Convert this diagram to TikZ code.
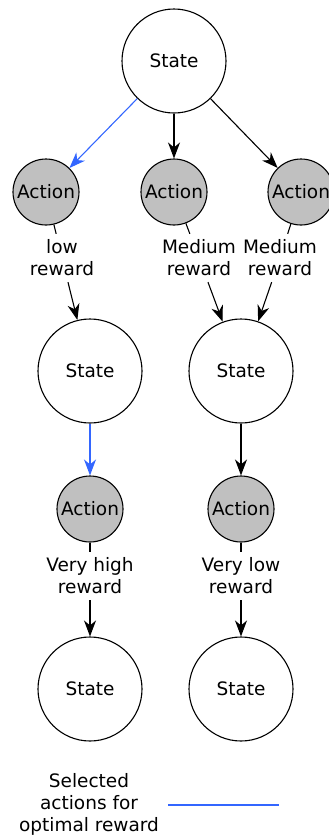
\documentclass[tikz,border=0pt]{standalone}
\usepackage{fontspec}
\setmainfont{DejaVu Sans}
\usetikzlibrary{arrows.meta}
\definecolor{optblue}{RGB}{51,102,255}
\definecolor{actgray}{RGB}{192,192,192}
\begin{document}
\begin{tikzpicture}[x=1pt,y=-1pt,
  every node/.style={font=\fontsize{18.5}{22}\selectfont},
  statenode/.style={circle,draw,line width=1.1pt,minimum size=104pt,inner sep=0pt},
  actionnode/.style={circle,draw,fill=actgray,line width=1.1pt,minimum size=66pt,inner sep=0pt},
  rewardlabel/.style={align=center,inner sep=0pt,outer sep=6pt},
  link/.style={line width=1.1pt},
  arr/.style={link,-{Stealth[length=16pt,width=12pt,inset=5pt]}},
  optimal/.style={arr,optblue}]
\useasboundingbox (0,0) rectangle (329,836);
\clip (0,0) rectangle (329,836);

% root and first choice of actions
\node[statenode] (s0) at (174,61) {State};
\node[actionnode] (a1) at (46,192) {Action};
\node[actionnode] (a2) at (174,192) {Action};
\node[actionnode] (a3) at (301,192) {Action};

% second level states
\node[statenode] (s1) at (90,371) {State};
\node[statenode] (s2) at (241,371) {State};

% second choice of actions
\node[actionnode] (a4) at (90,509) {Action};
\node[actionnode] (a5) at (241,509) {Action};

% final states
\node[statenode] (s3) at (90,689) {State};
\node[statenode] (s4) at (241,689) {State};

% reward labels
\node[rewardlabel] (r1) at (62,258) {low\\reward};
\node[rewardlabel] (r2) at (199,258) {Medium\\reward};
\node[rewardlabel] (r3) at (280,258) {Medium\\reward};
\node[rewardlabel] (r4) at (90,576) {Very high\\reward};
\node[rewardlabel] (r5) at (241,576) {Very low\\reward};

% state -> action
\draw[optimal] (s0) -- (a1);
\draw[arr] (s0) -- (a2);
\draw[arr] (s0) -- (a3);
\draw[optimal] (s1) -- (a4);
\draw[arr] (s2) -- (a5);

% action -> reward -> state
\draw[link] (a1) -- (r1);
\draw[arr] (r1) -- (s1);
\draw[link] (a2) -- (r2);
\draw[arr] (r2) -- (s2);
\draw[link] (a3) -- (r3);
\draw[arr] (r3) -- (s2);
\draw[link] (a4) -- (r4);
\draw[arr] (r4) -- (s3);
\draw[link] (a5) -- (r5);
\draw[arr] (r5) -- (s4);

% legend
\node[align=center,inner sep=0pt] (legtext) at (89,804) {Selected\\actions for\\optimal reward};
\coordinate (legA) at (168,805);
\coordinate (legB) at (279,805);
\draw[optblue,line width=1.3pt] (legA) -- (legB);
\end{tikzpicture}
\end{document}
